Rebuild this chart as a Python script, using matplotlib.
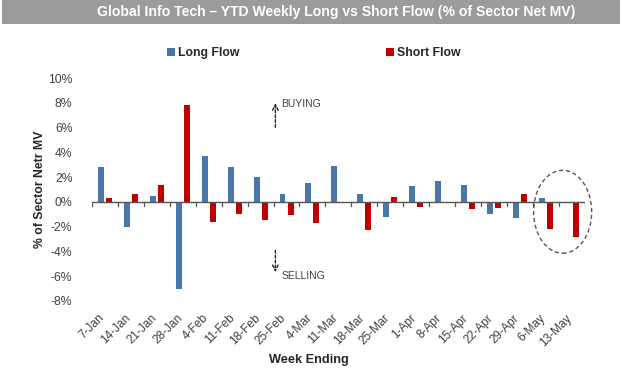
import numpy as np
import matplotlib
matplotlib.use("agg")
import matplotlib.pyplot as plt
from matplotlib.patches import Ellipse, Rectangle
from matplotlib.transforms import blended_transform_factory

plt.rcParams['font.family'] = ['Liberation Sans', 'DejaVu Sans']

weeks = ['7-Jan', '14-Jan', '21-Jan', '28-Jan', '4-Feb', '11-Feb', '18-Feb', '25-Feb',
         '4-Mar', '11-Mar', '18-Mar', '25-Mar', '1-Apr', '8-Apr', '15-Apr', '22-Apr',
         '29-Apr', '6-May', '13-May']
long_flow = [2.8, -2.0, 0.5, -7.0, 3.7, 2.8, 2.0, 0.6, 1.5, 2.9, 0.6, -1.2,
             1.3, 1.7, 1.4, -1.0, -1.3, 0.35, 0.0]
short_flow = [0.3, 0.6, 1.4, 7.8, -1.6, -1.0, -1.5, -1.1, -1.7, -0.1, -2.3, 0.4,
              -0.4, -0.1, -0.6, -0.5, 0.6, -2.2, -2.8]
yticks = [-8, -6, -4, -2, 0, 2, 4, 6, 8, 10]

blue = '#4a77aa'
red = '#c00000'
txt = '#404040'

fig = plt.figure(figsize=(6.22, 3.79), dpi=100)

# grey title band
fig.patches.append(Rectangle((0.003, 0.937), 0.994, 0.063, transform=fig.transFigure,
                             facecolor='#9b9b9b', edgecolor='none'))
fig.text(0.54, 0.968, 'Global Info Tech \u2013 YTD Weekly Long vs Short Flow (% of Sector Net MV)',
         color='white', fontsize=10.1, fontweight='bold', ha='center', va='center')

ax = fig.add_axes([0.148, 0.206, 0.792, 0.588])
x = np.arange(len(weeks))
ax.bar(x - 0.155, long_flow, width=0.23, color=blue, label='Long Flow')
ax.bar(x + 0.155, short_flow, width=0.23, color=red, label='Short Flow')

ax.set_xlim(-0.5, len(weeks) - 0.5)
ax.set_ylim(-8, 10)
ax.set_yticks(yticks)
ax.set_yticklabels([f'{v}%' for v in yticks], color=txt, fontsize=8.8)
ax.tick_params(axis='y', length=0, pad=14)
for s in ax.spines.values():
    s.set_visible(False)

# zero axis with boundary ticks
ax.axhline(0, color='#555555', lw=1.0)
ax.set_xticks([])
for b in np.arange(len(weeks) + 1) - 0.5:
    ax.plot([b, b], [0, -0.35], color='#555555', lw=0.9)

# category labels
tr = blended_transform_factory(ax.transData, ax.transAxes)
for i, w in enumerate(weeks):
    ax.text(i - 0.25, -0.05, w, transform=tr, rotation=45, ha='right', va='top',
            rotation_mode='anchor', fontsize=8.6, color=txt)

ax.text(7.85, -0.265, 'Week Ending', transform=tr, ha='center', va='center',
        fontsize=9.2, fontweight='bold', color='#262626')
fig.text(0.065, 0.50, '% of Sector Netr MV', rotation=90, ha='center', va='center',
         fontsize=8.8, fontweight='bold', color='#262626')

# buying / selling arrows
ax.annotate('', xy=(6.57, 8.2), xytext=(6.57, 5.8),
            arrowprops=dict(arrowstyle='->', ls=(0, (2, 1.5)), color='#222222', lw=1.0))
ax.text(6.8, 7.9, 'BUYING', fontsize=7.5, color=txt, va='center')
ax.annotate('', xy=(6.57, -5.9), xytext=(6.57, -3.7),
            arrowprops=dict(arrowstyle='->', ls=(0, (2, 1.5)), color='#222222', lw=1.0))
ax.text(6.8, -6.0, 'SELLING', fontsize=7.5, color=txt, va='center')

ax.add_patch(Ellipse((17.65, -0.8), 2.24, 6.7, fill=False, ls=(0, (3, 2)),
                     edgecolor='#555555', lw=1.0, clip_on=False))

leg = fig.legend(loc='center', bbox_to_anchor=(0.505, 0.86), ncol=2, frameon=False,
                 handlelength=0.6, handleheight=0.6, handletextpad=0.3, columnspacing=12,
                 prop={'size': 8.8, 'weight': 'bold'})
for t in leg.get_texts():
    t.set_color('#262626')

fig.savefig('out.png', dpi=100)
